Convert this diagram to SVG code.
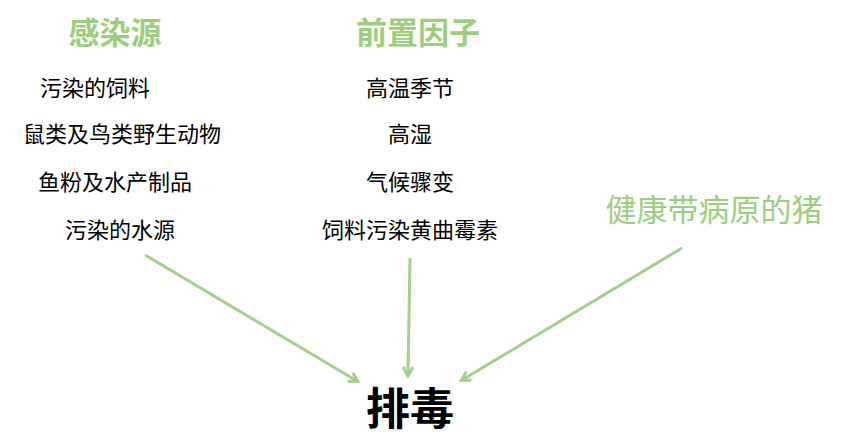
<svg xmlns="http://www.w3.org/2000/svg" width="846" height="446" viewBox="0 0 846 446">
<style>
.t{font-family:"Liberation Sans","Noto Sans CJK SC",sans-serif;text-anchor:middle}
.g{fill:#9BCF7D;font-size:31px;font-weight:bold}
.b{fill:#000;font-size:22px}
.c{stroke:#A6D08A;stroke-width:3;fill:none;marker-end:url(#a)}
</style>
<defs><marker id="a" markerWidth="12" markerHeight="12" refX="9" refY="6" orient="auto" markerUnits="userSpaceOnUse"><path d="M1,1 L10,6 L1,11" fill="none" stroke="#A6D08A" stroke-width="3"/></marker></defs>
<rect width="846" height="446" fill="#fff"/>
<g id="src"><text class="t g" x="115" y="44">感染源</text>
<text class="t b" x="95" y="96">污染的饲料</text>
<text class="t b" x="122" y="142">鼠类及鸟类野生动物</text>
<text class="t b" x="115" y="190">鱼粉及水产制品</text>
<text class="t b" x="120" y="238">污染的水源</text></g>
<g id="pre"><text class="t g" x="418" y="44">前置因子</text>
<text class="t b" x="410" y="96">高温季节</text>
<text class="t b" x="410" y="142">高湿</text>
<text class="t b" x="410" y="190">气候骤变</text>
<text class="t b" x="410" y="238">饲料污染黄曲霉素</text></g>
<g id="pig"><text class="t g" x="714" y="221" style="font-weight:normal">健康带病原的猪</text></g>
<g id="out"><text class="t" x="410" y="425" style="font-size:44px;font-weight:bold">排毒</text></g>
<g id="edges">
<line class="c" x1="145" y1="255" x2="357" y2="381"/>
<line class="c" x1="410" y1="258" x2="408" y2="375"/>
<line class="c" x1="682" y1="248" x2="462" y2="380"/>
</g>
</svg>
